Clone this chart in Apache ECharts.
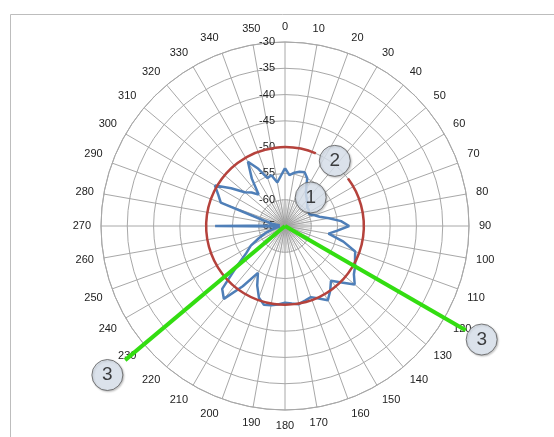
<!DOCTYPE html>
<html>
<head>
<meta charset="utf-8">
<script src="https://cdn.jsdelivr.net/npm/echarts@6/dist/echarts.min.js"></script>
<style>
html,body{margin:0;padding:0;background:#fff;}
#chart{width:554px;height:437px;}
</style>
</head>
<body>
<div id="chart"></div>
<script>
// Measured signal level (dB) per bearing (degrees)
const bearings = [0,5,10,15,20,25,30,35,40,45,50,55,60,65,70,75,80,85,90,95,100,105,110,115,120,125,130,135,140,145,150,155,160,165,170,175,180,185,190,195,200,205,210,215,220,225,230,235,240,245,250,255,260,265,270,275,280,285,290,295,300,305,310,315,320,325,330,335,340,345,350,355];
const levels = [-54.0,-55.3,-54.7,-54.3,-54.1,-55.0,-57.0,-58.0,-58.5,-59.0,-59.5,-59.5,-59.8,-59.8,-59.0,-58.2,-56.5,-54.3,-52.8,-55.0,-56.6,-53.5,-50.8,-50.3,-49.6,-49.0,-47.7,-49.8,-51.4,-50.0,-48.7,-49.8,-50.6,-50.3,-49.9,-50.2,-50.4,-50.0,-49.7,-49.5,-50.5,-52.5,-54.7,-51.0,-46.9,-48.1,-53.0,-56.0,-57.5,-59.5,-61.0,-62.5,-63.5,-64.0,-51.7,-64.0,-62.5,-60.6,-52.0,-51.0,-49.6,-52.5,-55.0,-56.0,-57.2,-54.0,-50.9,-53.0,-55.3,-55.0,-56.6,-55.5];
// Threshold ring: level, arc start and end bearing (gap where callout 2 sits)
const thresholdLevel = -50;
const thresholdArc = [53, 383];
// Green sector boundaries
const sectorBearings = [120, 230];
const sectorReach = -25.3;
// Callouts: [level, bearing, text]
const callouts = [[-57.7, 42, '1'], [-49.4, 37.4, '2'], [-21.8, 120, '3'], [-20.9, 230, '3']];
// Axis ranges
const radiusMin = -65, radiusMax = -30, radiusStep = 5;
const angleStep = 10;

const chart = echarts.init(document.getElementById('chart'), null, {renderer: 'canvas'});
const FONT = 'Liberation Sans, Arial, sans-serif';
const gridColor = '#a8a8a8';

const blueData = bearings.map((b, i) => [levels[i], b]);
blueData.push([levels[0], 360]);

chart.setOption({
  animation: false,
  backgroundColor: '#ffffff',
  graphic: [{
    type: 'rect', left: 8, top: 12, shape: {width: 620, height: 500},
    style: {fill: 'none', stroke: '#bdbdbd', lineWidth: 1}, z: -10, silent: true
  }],
  polar: [
    {center: [285, 226], radius: 184},
    {center: [285, 226], radius: 27}
  ],
  angleAxis: [
    {
      polarIndex: 0, type: 'value', min: 0, max: 360, interval: angleStep,
      startAngle: 90, clockwise: true, z: 0,
      axisLine: {lineStyle: {color: gridColor, width: 1}},
      axisTick: {show: false},
      splitLine: {lineStyle: {color: gridColor, width: 1}},
      axisLabel: {margin: 10, color: '#222', fontSize: 11, fontFamily: FONT,
        formatter: v => (v === 360 ? '' : String(v))}
    },
    {
      polarIndex: 1, type: 'value', min: 0, max: 360, interval: 5,
      startAngle: 90, clockwise: true, z: 0,
      axisLine: {show: false}, axisTick: {show: false}, axisLabel: {show: false},
      splitLine: {lineStyle: {color: '#a0a0a0', width: 0.6}}
    }
  ],
  radiusAxis: [
    {
      polarIndex: 0, type: 'value', min: radiusMin, max: radiusMax, interval: radiusStep,
      axisLine: {show: false}, axisTick: {show: false},
      splitLine: {lineStyle: {color: gridColor, width: 1}},
      axisLabel: {margin: 10, color: '#222', fontSize: 11, fontFamily: FONT}, z: 2
    },
    {
      polarIndex: 1, type: 'value', min: 0, max: 1, z: 0,
      axisLine: {show: false}, axisTick: {show: false}, axisLabel: {show: false},
      splitLine: {show: false}
    }
  ],
  series: [
    {
      type: 'line', coordinateSystem: 'polar', polarIndex: 0,
      data: blueData, symbol: 'none', silent: true, z: 3,
      lineStyle: {color: '#4f7fb8', width: 2.5}
    },
    {
      type: 'custom', coordinateSystem: 'polar', polarIndex: 0, silent: true, z: 4, clip: false,
      data: [[thresholdLevel, thresholdArc[0], thresholdArc[1]]],
      renderItem: function (params, api) {
        const c = api.coord([radiusMin, 0]);
        const p1 = api.coord([api.value(0), api.value(1)]);
        const p2 = api.coord([api.value(0), api.value(2) - 360]);
        const r = Math.hypot(p1[0] - c[0], p1[1] - c[1]);
        const a1 = Math.atan2(p1[1] - c[1], p1[0] - c[0]);
        let a2 = Math.atan2(p2[1] - c[1], p2[0] - c[0]);
        while (a2 <= a1) a2 += Math.PI * 2;
        return {
          type: 'arc',
          shape: {cx: c[0], cy: c[1], r: r, startAngle: a1, endAngle: a2, clockwise: true},
          style: {fill: 'none', stroke: '#b5423c', lineWidth: 2.5}
        };
      }
    },
    {
      type: 'custom', coordinateSystem: 'polar', polarIndex: 0, silent: true, z: 5, clip: false,
      data: sectorBearings.map(b => [sectorReach, b]),
      renderItem: function (params, api) {
        const c = api.coord([radiusMin, api.value(1)]);
        const p = api.coord([api.value(0), api.value(1)]);
        return {
          type: 'line',
          shape: {x1: c[0], y1: c[1], x2: p[0], y2: p[1]},
          style: {stroke: '#33dd11', lineWidth: 4}
        };
      }
    },
    {
      type: 'scatter', coordinateSystem: 'polar', polarIndex: 0, silent: true, z: 6, clip: false,
      data: callouts.map(c => ({value: [c[0], c[1]], name: c[2]})),
      symbol: 'circle', symbolSize: 31,
      itemStyle: {color: '#dfe7f2', borderColor: '#5a5a5a', borderWidth: 1,
        shadowColor: 'rgba(0,0,0,0.25)', shadowBlur: 2, shadowOffsetX: 1, shadowOffsetY: 1},
      label: {show: true, position: 'inside', formatter: p => p.name,
        color: '#111', fontSize: 19, fontFamily: FONT}
    }
  ]
});
</script>
</body>
</html>
